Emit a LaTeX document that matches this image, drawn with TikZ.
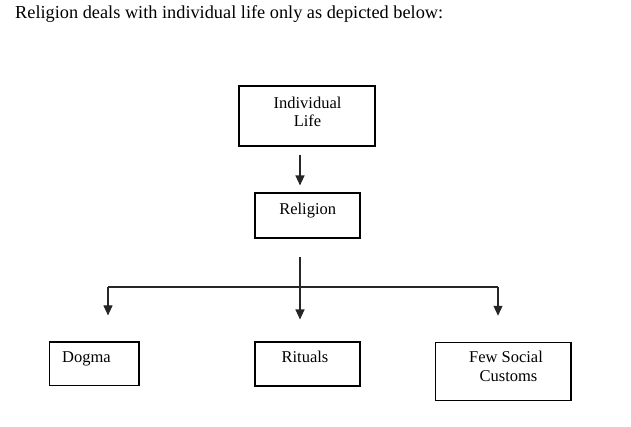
\documentclass[tikz,border=0pt]{standalone}
\usepackage{fontspec}
\setmainfont{Liberation Serif}
\usetikzlibrary{arrows.meta}
\begin{document}
\begin{tikzpicture}[x=1pt,y=-1pt,
  box/.style n args={2}{draw=black, line width=1.1pt, inner sep=0pt, minimum width=#1, minimum height=#2},
  txt/.style={inner sep=0pt, anchor=base, font=\fontsize{16.5}{18}\selectfont},
  link/.style={draw=black!85, line width=1.1pt},
  arr/.style={link, -{Triangle[width=9pt,length=10pt]}}]
\useasboundingbox[fill=white] (0,0) rectangle (631,426);
\node[inner sep=0pt, anchor=base west, font=\fontsize{18.3}{22}\selectfont] (title) at (15,18) {Religion deals with individual life only as depicted below:};
% boxes
\node[box={136pt}{60pt}] (ilife) at (307,116) {};
\node[box={105pt}{45pt}] (rel) at (307.5,215.5) {};
\node[box={89.5pt}{43.5pt}] (dogma) at (94.25,363.7) {};
\node[box={105pt}{44pt}] (rit) at (307.5,364) {};
\node[box={135.3pt}{58.4pt}] (few) at (503.3,371.5) {};
% texts
\node[txt] (t1) at (307.5,108.3) {Individual};
\node[txt] (t2) at (307.5,126.7) {Life};
\node[txt] (t3) at (307.7,214) {Religion};
\node[txt, anchor=base west] (t4) at (62,362.5) {Dogma};
\node[txt] (t5) at (305,362.5) {Rituals};
\node[txt] (t6) at (506,362.5) {Few Social};
\node[txt] (t7) at (508.5,381) {Customs};
% connectors
\coordinate (jm) at (300,287);
\coordinate (jl) at (108,287);
\coordinate (jr) at (498,287);
\draw[arr, shorten <=8pt, shorten >=7pt] (ilife.south -| jm) -- (rel.north -| jm);
\draw[link, shorten <=18pt] (rel.south -| jm) -- (jm);
\draw[link] (jl) -- (jr);
\draw[arr, shorten >=26pt] (jl) -- (dogma.north -| jl);
\draw[arr, shorten >=22pt] (jm) -- (rit.north -| jm);
\draw[arr, shorten >=26pt] (jr) -- (few.north -| jr);
\end{tikzpicture}
\end{document}
